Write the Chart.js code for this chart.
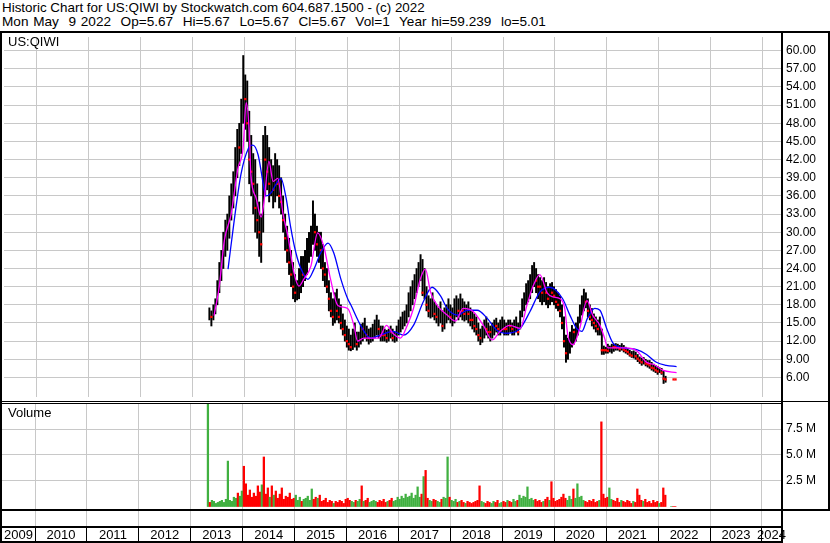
<!DOCTYPE html>
<html><head><meta charset="utf-8">
<script src="https://cdn.jsdelivr.net/npm/chart.js@4.4.1/dist/chart.umd.min.js"></script>
<style>
html,body{margin:0;padding:0;background:#fff;}
#wrap{position:relative;width:830px;height:543px;overflow:hidden;font-family:"Liberation Sans",Arial,sans-serif;color:#000;}
.t{position:absolute;white-space:pre;font-size:13px;line-height:14px;}
.ln{position:absolute;background:#000;}
canvas{position:absolute;left:0;}
</style></head><body>
<div id="wrap">
 <div class="t" style="left:2px;top:1px;font-size:13.4px">Historic Chart for US:QIWI by Stockwatch.com 604.687.1500 - (c) 2022</div>
 <div class="t" style="left:2px;top:15px;font-size:13.6px;word-spacing:1px">Mon May  9 2022  Op=5.67  Hi=5.67  Lo=5.67  Cl=5.67  Vol=1  Year hi=59.239  lo=5.01</div>
 <canvas id="cp" width="830" height="368" style="top:33px"></canvas>
 <canvas id="cv" width="830" height="105" style="top:404px"></canvas>
 <canvas id="cy" width="830" height="32" style="top:511px"></canvas>
 <div class="t" style="left:8px;top:35px">US:QIWI</div>
 <div class="t" style="left:8px;top:406px">Volume</div>
 <div class="ln" style="left:0;top:31px;width:830px;height:2px"></div>
 <div class="ln" style="left:0;top:31px;width:2px;height:512px"></div>
 <div class="ln" style="left:781px;top:31px;width:2px;height:512px"></div>
 <div class="ln" style="left:828px;top:31px;width:2px;height:479px"></div>
 <div class="ln" style="left:0;top:401px;width:830px;height:1px"></div>
 <div class="ln" style="left:0;top:403px;width:781px;height:1px"></div>
 <div class="ln" style="left:0;top:509px;width:830px;height:2px"></div>
 <div class="ln" style="left:0;top:526px;width:781px;height:2px"></div>
 <div class="ln" style="left:0;top:541px;width:781px;height:2px"></div>
</div>
<script>
// ---- data ----
const yearLabels = ['2009','2010','2011','2012','2013','2014','2015','2016','2017','2018','2019','2020','2021','2022','2023','2024'];
const priceTicks = [6,9,12,15,18,21,24,27,30,33,36,39,42,45,48,51,54,57,60];
const volumeTicks = [2.5,5,7.5];
const firstPeriod = 2013.33;      // decimal year of first two-week bar
const periodLength = 1/26;        // two weeks

const lows = [
 15.5,14.5,15.5,16.5,18,20,22,24,26,27,
 29,32,34,36,39,41,43,48,47,45,
 38,36,33,30,29,26,25,30,36,37,
 35,36,34,35,36,34,33,30,27,25,
 23,21,19,18.5,18.8,19,20,21,22,23,
 25,26,28,27,26,25,24,22,21,20,
 17,16,14.6,15,15.5,15,14,13,12,11,
 10.5,10.4,10.6,11,10.5,11,11.5,12,12.5,12,
 11.5,11.8,12,12.5,13,12.5,12,12,12,11.8,
 12,12.5,12,11.8,12,13,13.5,14,14.5,15,
 16,17,18,19,20,21,22,19.5,19,17,
 16,15.8,16,15.5,15,14.5,15,13.6,14,15,
 15.5,15,14.5,15,16,15.5,16,15.5,15.3,15.5,
 15,14.5,14,13.5,13,12,11.4,11.8,12.5,13,
 12.5,12,12.5,13,13.5,13,13,13.5,13,13,
 13,13.5,13,13,13.5,13,14,16,17,18,
 18.5,19,20,21,20,19,18.5,18,18.5,18,
 17.5,18,18.5,18,17.4,17,16,14,11,8.5,
 9,10,11,11.5,12,13,15,16.3,17,17.5,
 16,15.5,14.5,14,13.5,13,13,9.8,9.8,10,
 10,10.2,10,10.3,10.5,10.5,10.3,10.5,10.2,10,
 9.8,9.5,9.3,9.2,9,8.6,8.3,8,8.2,7.9,
 7.7,7.5,7.2,7,6.8,6.5,6.8,6.5,5.0,5.2,
 null,null,5.67,5.67,5.67];
const highs = [
 17.5,17,18,19,22,25,27,30,32,33,
 36,38,40,44,47,48,52,59.2,56,55,
 50,46,43,42,38,35,33,46,47.5,46,
 44,42,41,43,42,41,39,36,33,31,
 29,27,25,23,22,24,26,26,27,29,
 30,31,35.2,33,31,30,30,28,25,24,
 22,20,19,20,20.6,19,18,16.5,15.5,14.5,
 14,13,14,15,13.5,13.5,14.8,15,15.8,14.5,
 14,14.2,14.8,15.5,16.3,15.5,14.5,14.5,14,13.8,
 14,14.5,14,13.5,14.5,15.5,16,16.8,17,18,
 20,21,22,23,24,25,26.3,25.5,24,21,
 19.5,19,20,18.5,18,17.5,18.5,17,17.5,18,
 19,18,17.5,19,19.5,19,19.8,19,18.5,18,
 18.5,17.5,17,16.5,16,15,14,14.5,15.5,16,
 15,14.5,15,15.5,15.8,15,15.5,16,15.5,15,
 15.5,15.5,15,15.5,16,15,17,19,20,21.5,
 22,23,24.5,25,24,23,22.5,22,22.5,21.7,
 21,21.5,21.7,21,20.5,20,19.5,18,16,13,
 12.5,13.5,14.6,14,15,16,18,19.5,20.6,20,
 19,18,17.4,16.5,16,15.5,16,14,11.2,11,
 11.5,11.2,11.5,11.5,11.6,11.5,11.3,11.6,11.3,11,
 10.8,10.5,10.3,10.4,10.2,9.8,9.4,9.2,9.3,9,
 8.8,8.8,8.5,8.2,8,7.8,7.6,7.5,7,6.2,
 null,null,5.67,5.67,5.67];
const closes = [
 16.5,16,17,18.5,21,24,26,28,30,31,
 34,36,38,42,45,44,50,55,52,48,
 42,40,38,34,32,30,28,45,42,40,
 38,40,37,40,38,36,35,32,29,27,
 25,23,21,20,21,23,24,23,25,27,
 28,29,32,30,28,29,27,24,23,21,
 19,17,16,18,17,16,15,14,13,12,
 11.5,11,12.5,13,11.5,12.5,14.5,14,14.5,13,
 12.5,13.2,14,14.5,15.5,14,13,13,13,12.5,
 13.5,13.5,12.5,12.8,14,14.8,15,16,16.5,17,
 19,20,21,22,23,24,25,20,22,18,
 17,17.5,18,16.5,16,16.5,17,14.5,16,17,
 17.5,16,16.5,17.5,18,17,18,17,16.5,17,
 16.5,15.5,15.5,14.5,14,13,12.5,13,14.5,14,
 13.5,13.5,14,14.5,14.5,14,14.5,15,14,14,
 14.5,14.5,14,14.5,15,13.5,16.5,18,19,20,
 21,22,23.5,24,22,21,21,20,21.5,20,
 19,20.5,20,19.5,18.5,18,17,15,12,10,
 11,12.5,13.8,13.5,14,15,17,18.5,19.5,18.5,
 17,16,15.5,15,14.5,14,14.5,10.5,10.5,10.5,
 10.4,10.6,11,11,11,11,10.7,11,10.6,10.4,
 10.2,9.8,9.6,9.8,9.5,9.1,8.8,8.5,8.8,8.3,
 8.2,8,7.6,7.5,7.2,7,7.1,6.8,5.8,5.67,
 null,null,5.67,5.67,5.67];
const volumes = [ // millions
 9.9,0.4,0.6,0.5,0.3,0.4,0.5,0.6,0.4,0.7,
 4.4,0.6,0.5,0.9,0.8,1.3,1.0,1.5,3.9,2.2,
 1.1,1.6,0.9,1.3,1.0,2.0,1.4,2.1,4.8,1.2,
 1.8,0.9,2.0,1.1,1.5,0.8,1.2,1.8,0.7,1.0,
 0.9,1.3,0.7,0.8,1.1,0.6,0.9,0.5,0.7,0.8,
 1.0,0.6,1.7,0.7,0.9,0.8,1.1,0.5,0.6,0.8,
 0.4,0.6,0.5,0.3,0.5,0.4,0.6,0.5,0.3,0.7,
 0.8,0.6,0.5,0.4,0.6,0.5,0.7,2.0,0.5,0.6,
 0.8,0.4,0.5,0.6,0.5,0.4,0.6,0.5,0.7,0.4,
 0.5,0.6,0.8,0.5,0.6,0.9,0.7,1.0,0.8,1.2,
 0.9,1.0,1.3,0.8,1.1,1.9,0.9,1.2,2.9,3.5,
 0.8,0.6,0.5,0.7,0.6,0.5,0.4,0.7,0.9,0.8,
 4.8,0.9,0.6,0.5,0.7,0.4,0.5,0.6,0.4,0.3,
 0.5,0.4,0.3,0.4,0.5,0.6,2.0,0.5,0.4,0.3,
 0.5,0.4,0.3,0.5,0.4,0.6,0.3,0.4,0.5,0.4,
 0.6,0.5,0.4,0.7,0.5,0.6,1.1,0.8,1.0,0.9,
 1.9,0.7,0.8,0.6,0.7,0.5,0.6,0.4,0.5,0.7,
 0.9,0.6,2.4,0.8,0.5,0.6,0.7,0.9,1.2,0.8,
 0.6,1.0,0.7,1.7,0.8,2.2,0.9,1.0,0.6,0.5,
 0.4,0.6,0.5,0.7,0.4,0.5,0.6,8.2,1.2,0.8,
 0.9,1.8,0.7,0.6,0.5,0.8,0.4,0.6,0.5,0.4,
 0.6,0.5,0.3,0.5,0.4,1.7,1.1,0.6,0.5,0.7,
 0.4,0.5,0.3,0.6,0.4,0.5,0.3,0.4,1.8,1.1,
 null,null,0,0,0];
const magentaYears = [2013.42,2013.52,2013.62,2013.75,2013.88,2013.98,2014.04,2014.10,2014.13,2014.23,
 2014.33,2014.38,2014.48,2014.56,2014.65,2014.75,2014.85,2014.96,2015.06,2015.15,
 2015.29,2015.42,2015.54,2015.67,2015.81,2016.00,2016.12,2016.19,2016.31,2016.44,
 2016.60,2016.75,2016.87,2017.02,2017.15,2017.27,2017.40,2017.50,2017.60,2017.73,
 2017.92,2018.08,2018.23,2018.42,2018.62,2018.79,2018.94,2019.13,2019.33,2019.46,
 2019.58,2019.71,2019.85,2019.96,2020.10,2020.19,2020.25,2020.35,2020.48,2020.62,
 2020.73,2020.87,2020.96,2021.02,2021.19,2021.38,2021.58,2021.77,2021.92,2022.08,2022.35];
const magentaValues = [16.2,21.0,28.7,33.0,40.5,43.8,51.4,46.5,39.6,35.7,
 32.5,34.7,41.7,38.4,38.9,33.1,29.2,23.4,21.1,22.2,
 24.4,29.9,27.6,22.2,17.9,17.4,14.6,12.0,12.5,12.5,
 12.5,14.6,13.3,12.5,14.6,17.4,22.2,23.9,20.1,17.9,
 16.3,15.3,17.4,16.9,14.6,12.2,13.6,14.6,14.1,17.9,
 21.1,23.0,20.0,19.3,19.0,17.4,13.0,11.4,14.1,18.7,
 16.3,14.6,12.5,10.9,10.9,10.9,10.4,8.5,8.1,7.2,6.8];
const blueYears = [2013.69,2013.81,2013.94,2014.08,2014.17,2014.27,2014.37,2014.42,2014.52,2014.62,
 2014.71,2014.81,2014.90,2015.00,2015.10,2015.23,2015.35,2015.48,2015.62,2015.73,
 2015.87,2016.00,2016.06,2016.25,2016.44,2016.63,2016.88,2017.08,2017.27,2017.46,
 2017.63,2017.79,2017.92,2018.12,2018.31,2018.50,2018.69,2018.88,2019.08,2019.33,
 2019.52,2019.71,2019.90,2020.15,2020.29,2020.42,2020.52,2020.63,2020.77,2020.87,
 2021.00,2021.12,2021.31,2021.58,2021.77,2021.96,2022.15,2022.35];
const blueValues = [23.9,32.0,39.6,43.8,44.4,42.8,38.0,36.0,36.5,38.0,
 38.9,35.7,30.8,26.6,23.9,22.2,23.9,26.6,28.2,26.6,
 22.2,19.0,18.0,14.6,12.5,13.0,13.6,13.0,14.6,18.5,
 20.9,19.5,17.4,16.3,17.1,17.1,15.8,13.8,13.3,14.1,
 16.9,20.1,20.9,19.0,16.3,14.1,13.6,15.8,17.4,17.1,
 14.1,11.7,10.9,10.6,9.8,8.5,8.0,7.8];

// ---- chart setup ----
const X_MIN = 2009.3645, X_MAX = 2024.366;
const Y_MIN = 2.766, Y_MAX = 62.26;
const V_MIN = -0.24, V_MAX = 9.93;
const FONT = '"Liberation Sans", Arial, sans-serif';
const GRID = '#c8c8c8';
const UP = '#40b040', DOWN = '#ff0000';

const dates = lows.map((_, i) => firstPeriod + i * periodLength);
const rangeBars = [], closeMarks = [], volBars = [], volColors = [];
dates.forEach((x, i) => {
  if (lows[i] != null && highs[i] > lows[i]) rangeBars.push({ x, y: [lows[i], highs[i]] });
  const prev = i > 0 ? closes[i - 1] : null;
  const down = closes[i] != null && prev != null && closes[i] <= prev;
  if (down) closeMarks.push({ x, y: closes[i] });
  if (volumes[i] != null) { volBars.push({ x, y: volumes[i] }); volColors.push(down ? DOWN : UP); }
});
const yearBounds = yearLabels.slice(1).map(Number);

function xAxis(extra) {
  return Object.assign({
    type: 'linear', min: X_MIN, max: X_MAX, offset: false,
    afterBuildTicks: s => { s.ticks = yearBounds.map(v => ({ value: v })); },
    ticks: { display: false },
    grid: { color: GRID, drawTicks: false, offset: false },
    border: { display: false },
    afterFit: s => { s.height = 0; s.paddingLeft = 0; s.paddingRight = 0; }
  }, extra || {});
}
function yAxis(min, max, ticks, fmt) {
  return {
    position: 'right', min, max,
    afterBuildTicks: s => { s.ticks = ticks.map(v => ({ value: v })); },
    afterFit: s => { s.width = 49; s.paddingTop = 0; s.paddingBottom = 0; },
    grid: { color: GRID, drawTicks: false },
    border: { display: false },
    ticks: { autoSkip: false, padding: 5, color: '#000', font: { family: FONT, size: 12 }, callback: fmt }
  };
}
const common = {
  responsive: false, maintainAspectRatio: false, animation: false, events: [], devicePixelRatio: 1,
  layout: { padding: { left: 2, right: 0, top: 0, bottom: 0 } },
  plugins: { legend: { display: false }, tooltip: { enabled: false } }
};

new Chart(document.getElementById('cp'), {
  type: 'bar',
  data: { datasets: [
    { type: 'line', data: magentaYears.map((x, i) => ({ x, y: magentaValues[i] })), borderColor: '#ff00ff', borderWidth: 1.3, pointRadius: 0, cubicInterpolationMode: 'monotone', order: 0 },
    { type: 'line', data: blueYears.map((x, i) => ({ x, y: blueValues[i] })), borderColor: '#0000ff', borderWidth: 1.3, pointRadius: 0, cubicInterpolationMode: 'monotone', order: 1 },
    { type: 'scatter', data: closeMarks, pointStyle: 'rect', pointRadius: 1.6, backgroundColor: DOWN, borderWidth: 0, order: 2 },
    { type: 'bar', data: rangeBars, backgroundColor: '#000', barThickness: 1.3, order: 3 }
  ]},
  options: Object.assign({}, common, { scales: {
    x: xAxis(),
    y: yAxis(Y_MIN, Y_MAX, priceTicks, v => Number(v).toFixed(2))
  }})
});

new Chart(document.getElementById('cv'), {
  type: 'bar',
  data: { datasets: [ { data: volBars, backgroundColor: volColors, barThickness: 1.6 } ] },
  options: Object.assign({}, common, { scales: {
    x: xAxis(),
    y: yAxis(V_MIN, V_MAX, volumeTicks, v => Number(v).toFixed(1) + ' M')
  }})
});

new Chart(document.getElementById('cy'), {
  type: 'scatter',
  data: { datasets: [] },
  options: Object.assign({}, common, {
    layout: { padding: { left: 2, right: 49, top: 0, bottom: 0 } },
    scales: {
      x: xAxis({
        grid: { color: GRID, drawTicks: true, tickLength: 17, tickColor: '#000', offset: false },
        afterFit: s => { s.height = 17; s.paddingLeft = 0; s.paddingRight = 0; }
      }),
      y: { display: false, min: 0, max: 1 }
    }
  }),
  plugins: [{
    id: 'yearLabels',
    afterDraw(chart) {
      const s = chart.scales.x, ctx = chart.ctx;
      ctx.save();
      ctx.font = '13px ' + FONT; ctx.fillStyle = '#000';
      ctx.textAlign = 'center'; ctx.textBaseline = 'middle';
      const yMid = chart.chartArea.bottom + 9;
      yearLabels.forEach(lab => {
        const y0 = Number(lab);
        const a = Math.max(y0, s.min), b = Math.min(y0 + 1, s.max);
        ctx.fillText(lab, (s.getPixelForValue(a) + s.getPixelForValue(b)) / 2, yMid);
      });
      ctx.restore();
    }
  }]
});
</script>
</body></html>
